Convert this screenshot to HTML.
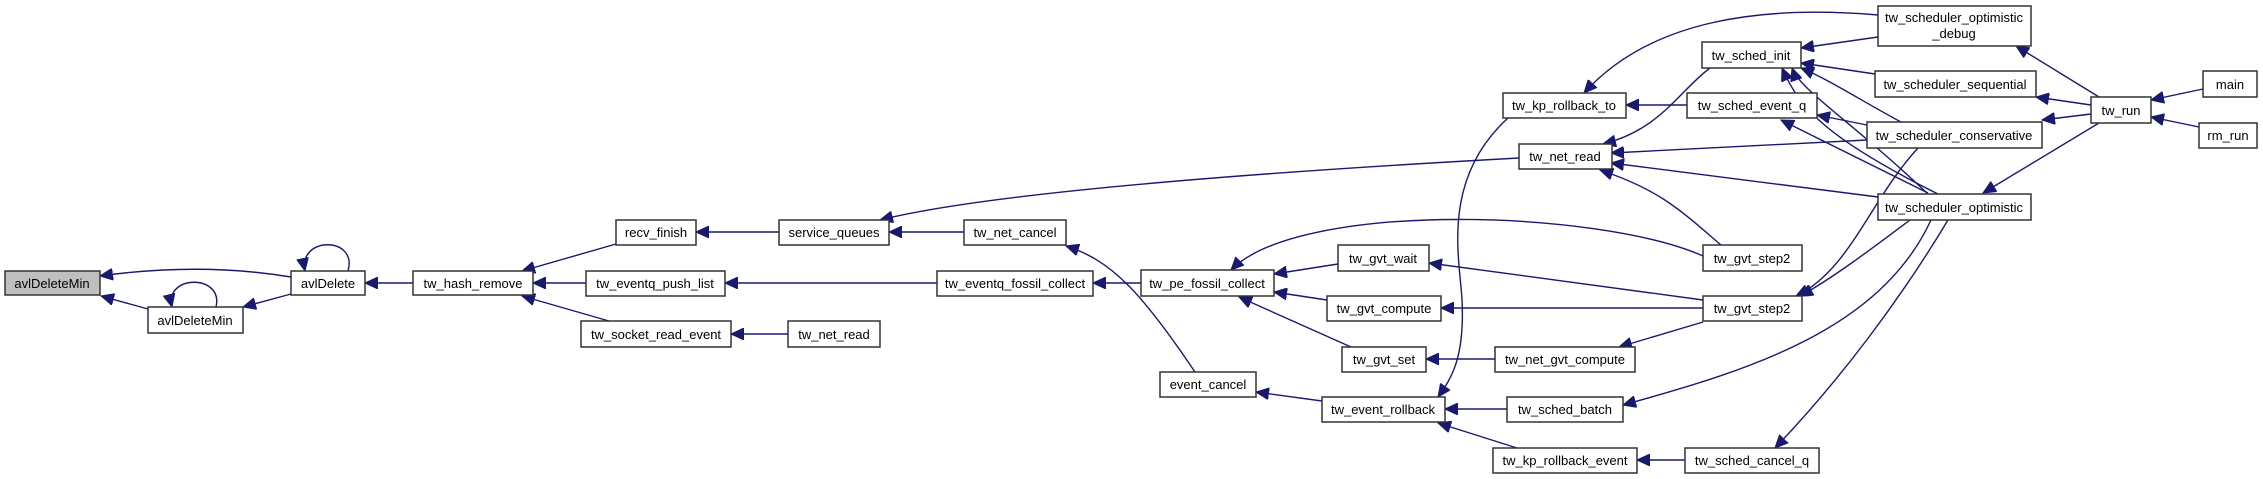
<!DOCTYPE html>
<html><head><meta charset="utf-8"><style>
html,body{margin:0;padding:0;background:#fff;}
svg{display:block;}
text{font-family:"Liberation Sans",sans-serif;font-size:13px;fill:#000;text-anchor:middle;}
rect{fill:#fff;stroke:#333;stroke-width:1.5;}
path{fill:none;stroke:#191970;stroke-width:1.4;}
</style></head><body>
<svg width="2263" height="479" viewBox="0 0 2263 479" xmlns="http://www.w3.org/2000/svg">
<defs><marker id="a" markerUnits="userSpaceOnUse" markerWidth="14" markerHeight="12" refX="13" refY="6" orient="auto"><path d="M0,0 L13,6 L0,12 Z" style="fill:#191970;stroke:#191970;stroke-width:1"/></marker></defs>
<g marker-end="url(#a)">
<path d="M291,277 Q200,262 100,276"/>
<path d="M148,309 L101,296"/>
<path d="M291,294 L243,307"/>
<path d="M348,271 C358,236 298,236 305,271"/>
<path d="M216,307 C224,274 164,274 172,307"/>
<path d="M413,283 L365,283"/>
<path d="M616,244 L522,271"/>
<path d="M586,283 L533,283"/>
<path d="M609,321 L522,296"/>
<path d="M779,232 L696,232"/>
<path d="M964,232 L889,232"/>
<path d="M1519,158 C1300,170 1000,190 880,220"/>
<path d="M937,283 L725,283"/>
<path d="M788,334 L731,334"/>
<path d="M1195,372 C1140,290 1110,260 1066,246"/>
<path d="M1141,283 L1274,283" marker-end="none"/>
<path d="M1141,283 L1093,283"/>
<path d="M1338,264 L1274,274"/>
<path d="M1327,300 L1274,292"/>
<path d="M1351,347 L1239,297"/>
<path d="M1703,256 C1600,210 1300,200 1231,270"/>
<path d="M1322,401 L1256,392"/>
<path d="M1508,118 C1440,180 1460,260 1462,300 C1465,360 1450,380 1438,397"/>
<path d="M1703,300 L1429,263"/>
<path d="M1703,308 L1441,308"/>
<path d="M1703,322 L1619,347"/>
<path d="M1495,359 L1426,359"/>
<path d="M1507,409 L1445,409"/>
<path d="M1517,448 L1438,423"/>
<path d="M1685,460 L1637,460"/>
<path d="M1948,220 C1900,300 1840,380 1775,448"/>
<path d="M1931,220 C1880,330 1750,370 1623,405"/>
<path d="M1910,220 C1870,250 1830,280 1800,296"/>
<path d="M1918,148 C1870,200 1850,270 1796,296"/>
<path d="M1721,245 C1680,210 1660,190 1600,170"/>
<path d="M1710,68 C1680,90 1660,130 1603,144"/>
<path d="M1867,140 L1611,153"/>
<path d="M1878,197 L1611,163"/>
<path d="M1687,105 L1626,105"/>
<path d="M1878,15 C1760,5 1650,20 1584,93"/>
<path d="M1878,37 L1801,48"/>
<path d="M1875,74 L1801,63"/>
<path d="M1901,122 C1860,100 1830,80 1801,68"/>
<path d="M1928,194 C1850,120 1800,90 1792,68"/>
<path d="M1938,194 C1830,140 1800,110 1782,68"/>
<path d="M1867,125 L1817,115"/>
<path d="M1928,193 L1781,120"/>
<path d="M2099,97 L2016,46"/>
<path d="M2091,105 L2036,97"/>
<path d="M2091,114 L2042,120"/>
<path d="M2099,123 L1983,193"/>
<path d="M2203,89 L2151,100"/>
<path d="M2199,127 L2151,117"/>
</g>
<rect x="5" y="271" width="95" height="24" style="fill:#bfbfbf"/><text x="52" y="288">avlDeleteMin</text>
<rect x="148" y="307" width="95" height="26"/><text x="195" y="325">avlDeleteMin</text>
<rect x="291" y="271" width="74" height="24"/><text x="328" y="288">avlDelete</text>
<rect x="413" y="271" width="120" height="24"/><text x="473" y="288">tw_hash_remove</text>
<rect x="616" y="220" width="80" height="25"/><text x="656" y="237">recv_finish</text>
<rect x="779" y="220" width="110" height="25"/><text x="834" y="237">service_queues</text>
<rect x="964" y="220" width="102" height="25"/><text x="1015" y="237">tw_net_cancel</text>
<rect x="586" y="271" width="139" height="25"/><text x="655" y="288">tw_eventq_push_list</text>
<rect x="937" y="271" width="156" height="25"/><text x="1015" y="288">tw_eventq_fossil_collect</text>
<rect x="581" y="321" width="150" height="26"/><text x="656" y="339">tw_socket_read_event</text>
<rect x="788" y="321" width="92" height="26"/><text x="834" y="339">tw_net_read</text>
<rect x="1519" y="144" width="93" height="25"/><text x="1565" y="161">tw_net_read</text>
<rect x="1703" y="245" width="99" height="26"/><text x="1752" y="263">tw_gvt_step2</text>
<rect x="1141" y="270" width="133" height="26"/><text x="1207" y="288">tw_pe_fossil_collect</text>
<rect x="1338" y="245" width="91" height="26"/><text x="1383" y="263">tw_gvt_wait</text>
<rect x="1327" y="296" width="114" height="25"/><text x="1384" y="313">tw_gvt_compute</text>
<rect x="1703" y="296" width="99" height="25"/><text x="1752" y="313">tw_gvt_step2</text>
<rect x="1342" y="347" width="84" height="25"/><text x="1384" y="364">tw_gvt_set</text>
<rect x="1495" y="347" width="140" height="25"/><text x="1565" y="364">tw_net_gvt_compute</text>
<rect x="1160" y="372" width="96" height="25"/><text x="1208" y="389">event_cancel</text>
<rect x="1322" y="397" width="123" height="25"/><text x="1383" y="414">tw_event_rollback</text>
<rect x="1507" y="397" width="116" height="25"/><text x="1565" y="414">tw_sched_batch</text>
<rect x="1493" y="448" width="144" height="25"/><text x="1565" y="465">tw_kp_rollback_event</text>
<rect x="1685" y="448" width="134" height="25"/><text x="1752" y="465">tw_sched_cancel_q</text>
<rect x="1878" y="6" width="153" height="40"/><text x="1954" y="22">tw_scheduler_optimistic</text><text x="1954" y="38">_debug</text>
<rect x="1702" y="42" width="99" height="26"/><text x="1751" y="60">tw_sched_init</text>
<rect x="1875" y="71" width="161" height="26"/><text x="1955" y="89">tw_scheduler_sequential</text>
<rect x="1503" y="93" width="123" height="25"/><text x="1564" y="110">tw_kp_rollback_to</text>
<rect x="1687" y="93" width="130" height="25"/><text x="1752" y="110">tw_sched_event_q</text>
<rect x="2091" y="97" width="60" height="26"/><text x="2121" y="115">tw_run</text>
<rect x="2203" y="71" width="54" height="26"/><text x="2230" y="89">main</text>
<rect x="2199" y="123" width="58" height="25"/><text x="2228" y="140">rm_run</text>
<rect x="1867" y="122" width="175" height="26"/><text x="1954" y="140">tw_scheduler_conservative</text>
<rect x="1878" y="194" width="153" height="26"/><text x="1954" y="212">tw_scheduler_optimistic</text>
</svg>
</body></html>
